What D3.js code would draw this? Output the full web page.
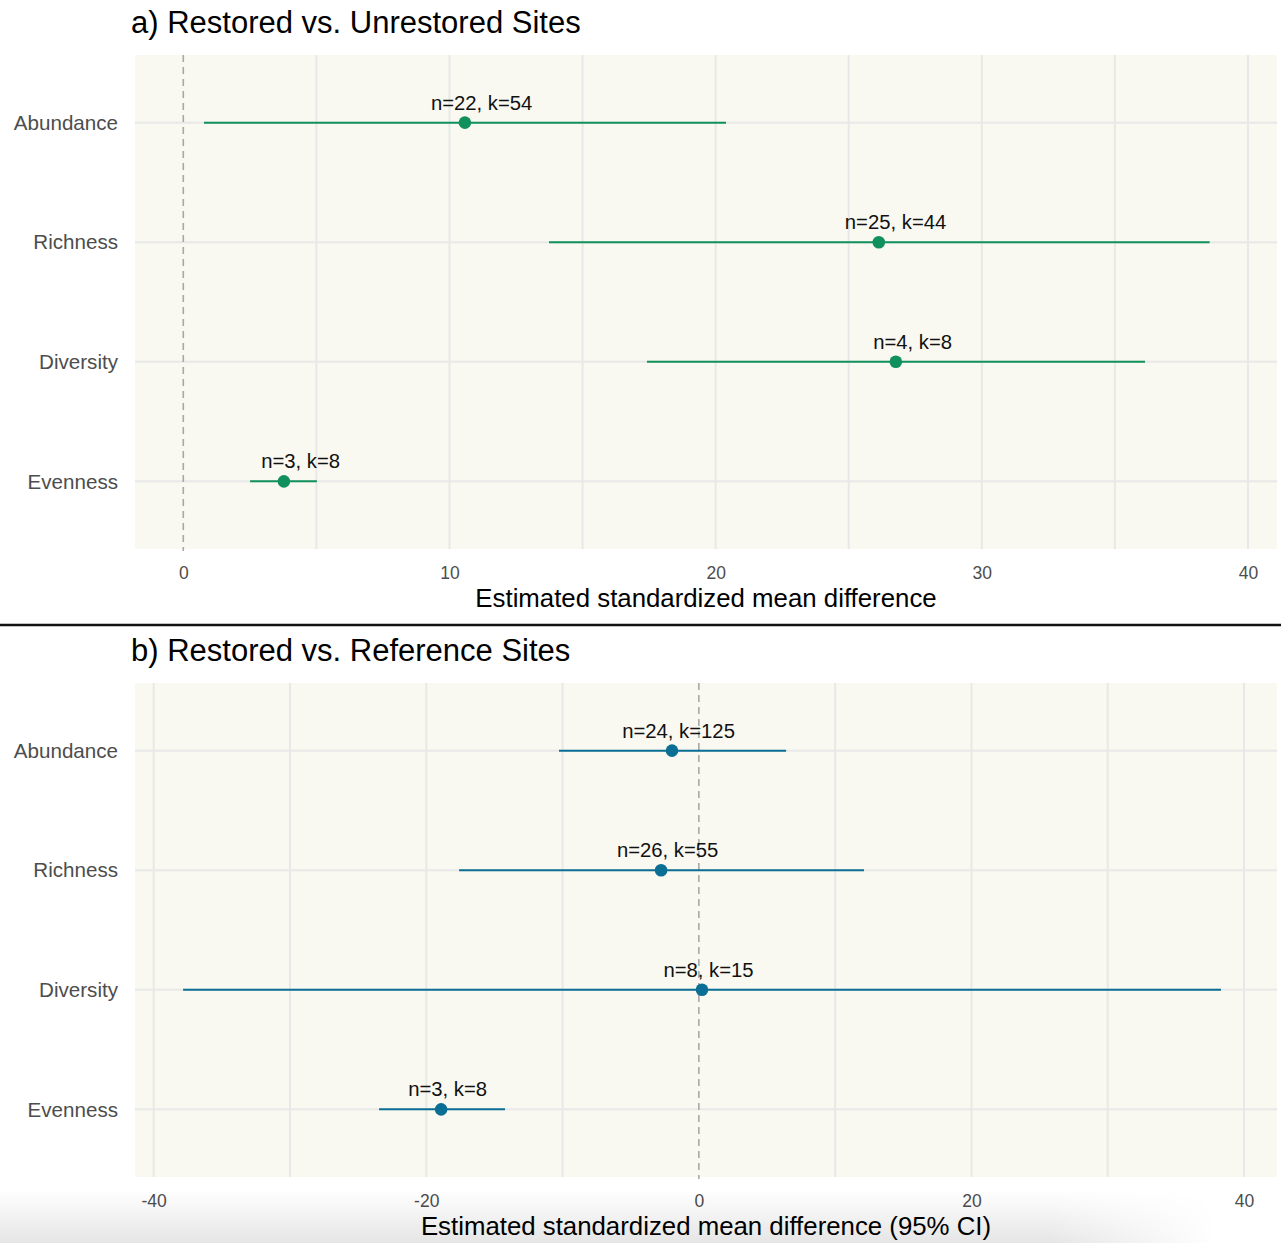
<!DOCTYPE html>
<html>
<head>
<meta charset="utf-8">
<script src="https://cdn.jsdelivr.net/npm/d3@7"></script>
<style>
  html, body { margin: 0; padding: 0; background: #ffffff; }
  svg { display: block; font-family: "Liberation Sans", Arial, Helvetica, sans-serif; }
</style>
</head>
<body>
<svg id="chart" width="1281" height="1243"></svg>
<script>
// Outcome categories, top to bottom
const categories = ["Abundance", "Richness", "Diversity", "Evenness"];

// a) Restored vs. unrestored sites
const unrestoredEst = [10.58, 26.13, 26.77, 3.78];
const unrestoredLo  = [0.78, 13.74, 17.42, 2.51];
const unrestoredHi  = [20.39, 38.56, 36.13, 5.02];
const unrestoredN   = [22, 25, 4, 3];
const unrestoredK   = [54, 44, 8, 8];

// b) Restored vs. reference sites
const referenceEst = [-1.97, -2.77, 0.23, -18.91];
const referenceLo  = [-10.26, -17.59, -37.84, -23.46];
const referenceHi  = [6.40, 12.12, 38.31, -14.22];
const referenceN   = [24, 26, 8, 3];
const referenceK   = [125, 55, 15, 8];

// Axis ticks
const ticksA = [0, 10, 20, 30, 40];
const minorA = [5, 15, 25, 35];
const ticksB = [-40, -20, 0, 20, 40];
const minorB = [-30, -10, 10, 30];

const rows = (est, lo, hi, n, k) => categories.map((c, i) => ({
  cat: c, est: est[i], lo: lo[i], hi: hi[i], label: `n=${n[i]}, k=${k[i]}`
}));

const svg = d3.select("#chart");

// soft shadow along the bottom edge
const defs = svg.append("defs");
const vg = defs.append("linearGradient").attr("id", "shadeV").attr("x1", 0).attr("y1", 0).attr("x2", 0).attr("y2", 1);
vg.append("stop").attr("offset", "0%").attr("stop-color", "#000").attr("stop-opacity", 0);
vg.append("stop").attr("offset", "100%").attr("stop-color", "#000").attr("stop-opacity", 0.10);
const hg = defs.append("linearGradient").attr("id", "fadeH").attr("x1", 0).attr("y1", 0).attr("x2", 1).attr("y2", 0);
hg.append("stop").attr("offset", "0%").attr("stop-color", "#fff");
hg.append("stop").attr("offset", "82%").attr("stop-color", "#fff");
hg.append("stop").attr("offset", "95%").attr("stop-color", "#000");
const mask = defs.append("mask").attr("id", "shadeMask");
mask.append("rect").attr("x", 0).attr("y", 1190).attr("width", 1281).attr("height", 53).attr("fill", "url(#fadeH)");

function panel(opts) {
  const { top, bottom, left, right, domain, ticks, minor, data, color, nudge, title, xTitle, titleY, tickY, xTitleY } = opts;
  const g = svg.append("g");

  const x = d3.scaleLinear().domain(domain).range([left, right]);
  const y = d3.scalePoint().domain(categories).range([top, bottom]).padding(0.566);

  // panel background
  g.append("rect").attr("x", left).attr("y", top).attr("width", right - left).attr("height", bottom - top)
    .attr("fill", "#f9f9f1");

  // grid
  g.selectAll(".vgrid").data(ticks.concat(minor).filter(v => v !== 0)).join("line")
    .attr("x1", d => x(d)).attr("x2", d => x(d)).attr("y1", top).attr("y2", bottom)
    .attr("stroke", "#e8e8e8").attr("stroke-width", 2);
  g.selectAll(".hgrid").data(categories).join("line")
    .attr("x1", left).attr("x2", right).attr("y1", d => y(d)).attr("y2", d => y(d))
    .attr("stroke", "#e8e8e8").attr("stroke-width", 2);

  // zero reference line
  g.append("line").attr("x1", x(0)).attr("x2", x(0)).attr("y1", top).attr("y2", bottom + 2)
    .attr("stroke", "#a8a8a8").attr("stroke-width", 1.6).attr("stroke-dasharray", "7,5");

  // confidence intervals
  g.selectAll(".ci").data(data).join("line")
    .attr("x1", d => x(d.lo)).attr("x2", d => x(d.hi))
    .attr("y1", d => y(d.cat)).attr("y2", d => y(d.cat))
    .attr("stroke", color).attr("stroke-width", 2);

  // estimates
  g.selectAll(".pt").data(data).join("circle")
    .attr("cx", d => x(d.est)).attr("cy", d => y(d.cat)).attr("r", 6.3)
    .attr("fill", color);

  // sample sizes
  g.selectAll(".lab").data(data).join("text")
    .attr("x", d => x(d.est + nudge)).attr("y", d => y(d.cat) - 13)
    .attr("text-anchor", "middle").attr("font-size", 20.3).attr("fill", "#111")
    .text(d => d.label);

  // y axis labels
  g.selectAll(".ylab").data(categories).join("text")
    .attr("x", left - 17).attr("y", d => y(d)).attr("dy", "0.35em")
    .attr("text-anchor", "end").attr("font-size", 20.6).attr("fill", "#4d4d4d")
    .text(d => d);

  // x axis tick labels
  const axis = d3.axisBottom(x).tickValues(ticks).tickSize(0).tickPadding(0)
    .tickFormat(d => d < 0 ? "-" + Math.abs(d) : d);
  const ax = g.append("g").attr("transform", `translate(0,${tickY})`).call(axis);
  ax.select(".domain").remove();
  ax.selectAll("text").attr("font-size", 17.5).attr("fill", "#4d4d4d")
    .attr("font-family", "Liberation Sans, Arial, sans-serif").attr("dy", 0);

  // titles
  g.append("text").attr("x", 131).attr("y", titleY).attr("font-size", 31).attr("fill", "#000").text(title);
  g.append("text").attr("x", (left + right) / 2).attr("y", xTitleY).attr("text-anchor", "middle")
    .attr("font-size", 25.8).attr("fill", "#000").text(xTitle);
}

panel({
  top: 55, bottom: 549, left: 135, right: 1277,
  domain: [-1.814, 41.09], ticks: ticksA, minor: minorA,
  data: rows(unrestoredEst, unrestoredLo, unrestoredHi, unrestoredN, unrestoredK),
  color: "#10905a", nudge: 0.63,
  title: "a) Restored vs. Unrestored Sites",
  xTitle: "Estimated standardized mean difference",
  titleY: 33, tickY: 579, xTitleY: 607
});

panel({
  top: 683, bottom: 1177, left: 135, right: 1277,
  domain: [-41.37, 42.42], ticks: ticksB, minor: minorB,
  data: rows(referenceEst, referenceLo, referenceHi, referenceN, referenceK),
  color: "#0b6e94", nudge: 0.48,
  title: "b) Restored vs. Reference Sites",
  xTitle: "Estimated standardized mean difference (95% CI)",
  titleY: 661, tickY: 1207, xTitleY: 1235
});

// divider between the two panels
svg.append("line").attr("x1", 0).attr("x2", 1281).attr("y1", 625).attr("y2", 625)
  .attr("stroke", "#111").attr("stroke-width", 2.5);

// bottom edge shadow
svg.append("rect").attr("x", 0).attr("y", 1190).attr("width", 1281).attr("height", 53)
  .attr("fill", "url(#shadeV)").attr("mask", "url(#shadeMask)").attr("pointer-events", "none");
</script>
</body>
</html>
